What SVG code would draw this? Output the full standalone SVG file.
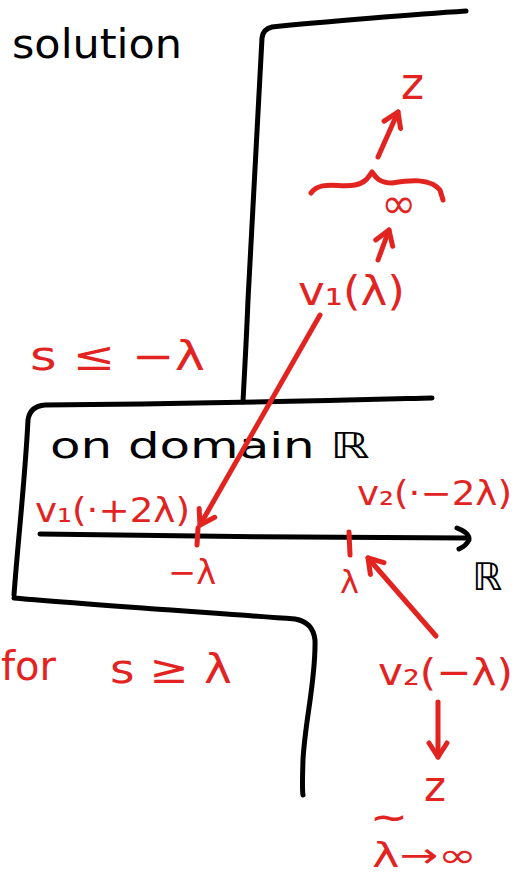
<svg xmlns="http://www.w3.org/2000/svg" width="517" height="875" viewBox="0 0 517 875">
<defs>
<style>
.k{fill:none;stroke:#000;stroke-width:5;stroke-linecap:round;stroke-linejoin:round}
.r{fill:none;stroke:#e2231f;stroke-width:5;stroke-linecap:round;stroke-linejoin:round}
.tk{font-family:"DejaVu Sans","Liberation Sans",sans-serif;fill:#000}
.tr{font-family:"DejaVu Sans","Liberation Sans",sans-serif;fill:#e2231f}
</style>
<marker id="ar" viewBox="0 0 24 24" markerWidth="24" markerHeight="24" refX="20" refY="12" orient="auto" markerUnits="userSpaceOnUse">
<path d="M6,3 L20,12 L6,21" fill="none" stroke="#e2231f" stroke-width="5" stroke-linecap="round" stroke-linejoin="round"/>
</marker>
</defs>
<rect width="517" height="875" fill="#fff"/>
<g id="region-upper">
<path class="k" d="M466,11 C420,14 320,22 272,27 Q263,29 262,38 C258,120 250,250 248,300 C246,350 244,380 243,402"/>
<text class="tk" x="12" y="58" font-size="40" textLength="170" lengthAdjust="spacingAndGlyphs">solution</text>
<text class="tr" x="30" y="370" font-size="40" textLength="175" lengthAdjust="spacingAndGlyphs">s ≤ −λ</text>
</g>
<g id="region-middle">
<path class="k" d="M432,398 C350,400 200,404 45,405 Q30,406 28,420 C25,480 18,540 14,595"/>
<text class="tk" x="50" y="458" font-size="36" textLength="320" lengthAdjust="spacingAndGlyphs">on domain ℝ</text>
</g>
<g id="region-lower">
<path class="k" d="M14,598 C80,604 200,612 295,619 Q313,622 315,640 C316,680 305,720 303,760 Q302,790 303,795"/>
<text class="tr" x="1" y="680" font-size="40" textLength="55" lengthAdjust="spacingAndGlyphs">for</text>
<text class="tr" x="110" y="683" font-size="40" textLength="122" lengthAdjust="spacingAndGlyphs">s ≥ λ</text>
</g>
<g id="axis">
<path class="k" d="M40,534 C150,536 350,538 466,538"/>
<path class="k" d="M457,528 Q470,533 469,540 Q466,546 459,549"/>
<text class="tk" x="472" y="590" font-size="38">ℝ</text>
<path class="r" d="M198,528 L197,545"/>
<path class="r" d="M349,532 L350,555"/>
<text class="tr" x="168" y="584" font-size="34" textLength="48" lengthAdjust="spacingAndGlyphs">−λ</text>
<text class="tr" x="340" y="593" font-size="32">λ</text>
</g>
<g id="v1-shift">
<text class="tr" x="35" y="522" font-size="34" textLength="155" lengthAdjust="spacingAndGlyphs">v₁(·+2λ)</text>
</g>
<g id="v2-shift">
<text class="tr" x="357" y="505" font-size="34" textLength="155" lengthAdjust="spacingAndGlyphs">v₂(·−2λ)</text>
</g>
<g id="v1-lambda">
<text class="tr" x="298" y="305" font-size="40" textLength="107" lengthAdjust="spacingAndGlyphs">v₁(λ)</text>
</g>
<g id="infinity-top">
<path class="r" d="M311,193 C320,180 340,188 355,185 C365,183 368,178 372,172 C376,178 380,183 392,183 C410,180 430,178 440,190 L443,200"/>
<text class="tr" x="381" y="218" font-size="42">∞</text>
</g>
<g id="z-top">
<text class="tr" x="401" y="99" font-size="44">z</text>
</g>
<g id="v2-minus-lambda">
<text class="tr" x="378" y="685" font-size="38" textLength="135" lengthAdjust="spacingAndGlyphs">v₂(−λ)</text>
</g>
<g id="z-bottom">
<text class="tr" x="424" y="801" font-size="42">z</text>
<text class="tr" x="370" y="828" font-size="30" font-weight="bold" textLength="38" lengthAdjust="spacingAndGlyphs">~</text>
<text class="tr" x="372" y="867" font-size="34" textLength="105" lengthAdjust="spacingAndGlyphs">λ→∞</text>
</g>
<g id="connectors">
<path class="r" d="M320,315 L200,525" marker-end="url(#ar)"/>
<path class="r" d="M436,636 L368,558" marker-end="url(#ar)"/>
<path class="r" d="M378,260 L389,230" marker-end="url(#ar)"/>
<path class="r" d="M378,157 L398,112" marker-end="url(#ar)"/>
<path class="r" d="M438,702 L438,757" marker-end="url(#ar)"/>
</g>
</svg>
